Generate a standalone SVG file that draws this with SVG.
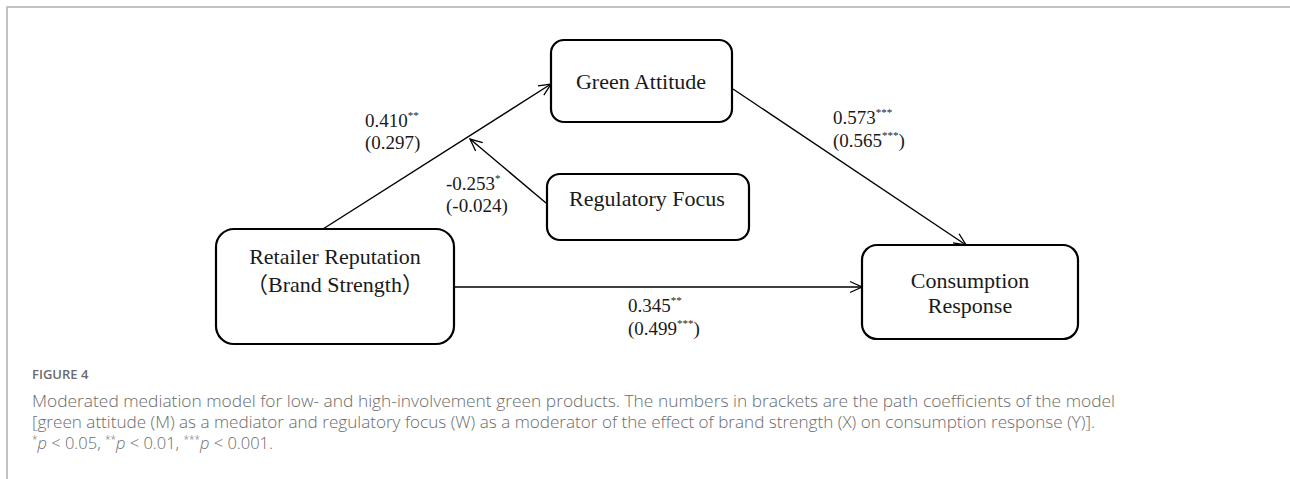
<svg xmlns="http://www.w3.org/2000/svg" width="1290" height="479" viewBox="0 0 1290 479">
<defs>
<marker id="arr" markerUnits="userSpaceOnUse" markerWidth="14" markerHeight="14" viewBox="0 0 14 14" refX="13" refY="7" orient="auto">
<path d="M1,1.5 L13,7 L1,12.5" fill="none" stroke="#000" stroke-width="1.3"/>
</marker>
</defs>
<style>
.box{fill:#fff;stroke:#000;stroke-width:2.2}
.lbl{font-family:"Liberation Serif","Times New Roman",serif;font-size:22px;fill:#1a1a1a;text-anchor:middle}
.cjk{font-family:"Noto Sans CJK TC","Liberation Serif",serif}
.coef{font-family:"Liberation Serif","Times New Roman",serif;font-size:19px;fill:#1a1a1a}
.sup{font-size:11px}
.edge{stroke:#000;stroke-width:1.4;fill:none;marker-end:url(#arr)}
.cap{font-family:"Open Sans","Noto Sans",sans-serif;font-size:16.5px;fill:#6b6b6b;font-weight:300}
.fig{font-family:"Open Sans","Noto Sans",sans-serif;font-size:13px;fill:#6b6b6b;font-weight:600}
</style>
<rect width="1290" height="479" fill="#fff"/>
<path d="M7,479 V7 H1290" fill="none" stroke="#b0b0b0" stroke-width="1.5"/>
<g id="connectors">
<line class="edge" x1="323" y1="229" x2="551" y2="84"/>
<line class="edge" x1="733" y1="89" x2="966" y2="245"/>
<line class="edge" x1="454" y1="287" x2="862" y2="287"/>
<line class="edge" x1="546" y1="203" x2="470" y2="139"/>
</g>
<g id="green-attitude">
<rect class="box" x="551" y="40" width="181" height="82" rx="13"/>
<text class="lbl" x="641" y="89">Green Attitude</text>
</g>
<g id="regulatory-focus">
<rect class="box" x="547" y="174" width="202" height="66" rx="13"/>
<text class="lbl" x="647" y="206">Regulatory Focus</text>
</g>
<g id="retailer-reputation">
<rect class="box" x="216" y="229" width="238" height="115" rx="18"/>
<text class="lbl" x="335" y="264">Retailer Reputation</text>
<text class="lbl" x="335" y="292"><tspan class="cjk">（</tspan>Brand Strength<tspan class="cjk">）</tspan></text>
</g>
<g id="consumption-response">
<rect class="box" x="862" y="245" width="216" height="94" rx="15"/>
<text class="lbl" x="970" y="288">Consumption</text>
<text class="lbl" x="970" y="313">Response</text>
</g>
<g id="labels">
<text class="coef" x="365" y="127">0.410<tspan class="sup" dy="-8">**</tspan></text>
<text class="coef" x="365" y="149">(0.297)</text>
<text class="coef" x="446" y="190">-0.253<tspan class="sup" dy="-8">*</tspan></text>
<text class="coef" x="446" y="212">(-0.024)</text>
<text class="coef" x="833" y="124">0.573<tspan class="sup" dy="-8">***</tspan></text>
<text class="coef" x="833" y="147">(0.565<tspan class="sup" dy="-8">***</tspan><tspan dy="8">)</tspan></text>
<text class="coef" x="628" y="312">0.345<tspan class="sup" dy="-8">**</tspan></text>
<text class="coef" x="628" y="335">(0.499<tspan class="sup" dy="-8">***</tspan><tspan dy="8">)</tspan></text>
</g>
<g id="caption">
<text class="fig" x="32" y="379">FIGURE 4</text>
<text class="cap" x="32" y="407" textLength="1083" lengthAdjust="spacingAndGlyphs">Moderated mediation model for low- and high-involvement green products. The numbers in brackets are the path coefficients of the model</text>
<text class="cap" x="32" y="428" textLength="1063" lengthAdjust="spacingAndGlyphs">[green attitude (M) as a mediator and regulatory focus (W) as a moderator of the effect of brand strength (X) on consumption response (Y)].</text>
<text class="cap" x="32" y="449"><tspan font-size="10" dy="-6">*</tspan><tspan font-style="italic" dy="6">p</tspan> &lt; 0.05, <tspan font-size="10" dy="-6">**</tspan><tspan font-style="italic" dy="6">p</tspan> &lt; 0.01, <tspan font-size="10" dy="-6">***</tspan><tspan font-style="italic" dy="6">p</tspan> &lt; 0.001.</text>
</g>
</svg>
